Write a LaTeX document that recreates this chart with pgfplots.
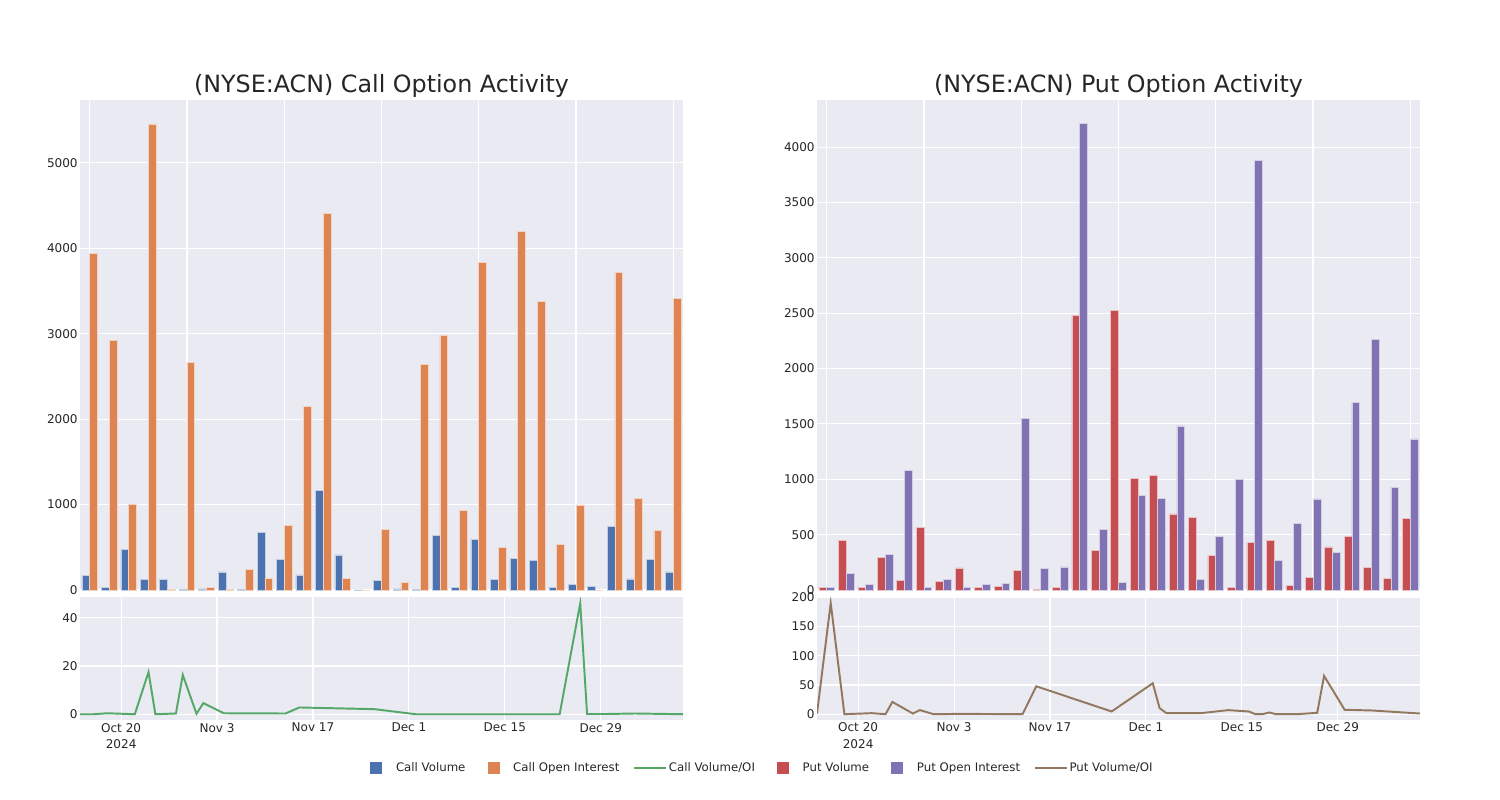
\documentclass[border=0pt]{standalone}
\usepackage{fontspec}
\setmainfont{DejaVu Sans}
\usepackage{pgfplots}
\usepackage{pgfplotstable}
\pgfplotsset{compat=1.18}

\definecolor{cblue}{HTML}{4C72B0}
\definecolor{corange}{HTML}{DD8452}
\definecolor{cgreen}{HTML}{55A868}
\definecolor{cred}{HTML}{C44E52}
\definecolor{cpurple}{HTML}{8172B3}
\definecolor{cbrown}{HTML}{937860}
\definecolor{bgc}{HTML}{EAEAF2}
\definecolor{txt}{HTML}{262626}

\pgfplotstableread{
x vol oi
0 172 3939
1 35 2925
2 476 1006
3 121 5456
4 121 4
5 4 2668
6 12 35
7 211 8
8 8 242
9 671 137
10 355 757
11 176 2153
12 1166 4407
13 410 140
14 2 0
15 109 712
16 12 90
17 3 2640
18 640 2984
19 27 928
20 589 3838
21 125 495
22 374 4200
23 351 3381
24 35 538
25 62 995
26 39 0
27 745 3713
28 129 1076
29 359 702
30 211 3413
}\calldata

\pgfplotstableread{
x vol oi
0 27 27
1 449 148
2 24 51
3 292 322
4 84 1081
5 563 21
6 81 99
7 199 21
8 24 48
9 30 60
10 178 1548
11 9 193
12 27 208
13 2479 4214
14 361 548
15 2528 68
16 1009 852
17 1033 828
18 687 1482
19 654 93
20 316 485
21 21 1000
22 428 3883
23 446 268
24 39 602
25 117 822
26 389 337
27 485 1696
28 202 2262
29 102 928
30 645 1364
}\putdata

\pgfplotstableread{
d r
-6 0
-4 0
-2 0.4
2 0
4 17.5
5 0
8 0.3
9 16.3
11 0.2
12 4.6
15 0.4
24 0.3
26 2.8
37 2.1
43 0
45 0
50 0
57 0
64 0
67 46
68 0.1
71 0.1
75 0.3
82 0
}\callratio

\pgfplotstableread{
d r
-6 1
-4 190
-2 0
2 1.7
4 0
5 21
8 1
9 7
11 0
15 0.5
24 0
26 47.7
37 4.6
43 52.9
44 10.3
45 1.7
50 1.7
54 6.9
57 4.6
58 0
59 0
60 2.9
61 0
64 0
67 2.3
68 65.5
71 7.5
75 6.3
82 1.1
}\putratio

\pgfplotsset{
  sbase/.style={
    scale only axis, width=434.16bp,
    axis background/.style={fill=bgc},
    axis line style={draw=none},
    major tick length=0pt,
    grid=major, major grid style={white, line width=0.8bp},
    tick label style={font=\fontsize{8.7}{12.2}\selectfont, text=txt},
    yticklabel style={inner sep=1.5bp},
    /pgf/number format/assume math mode=true,
    /pgf/number format/set thousands separator={},
    title style={font=\fontsize{17.2}{20}\selectfont, text=txt, at={(0.5,1)}, anchor=south, yshift=-7.4bp},
  },
  sbar/.style={sbase, ybar, height=352.8bp, xmin=-0.5, xmax=30.5, ymin=0,
    xtick={0,5,...,30}, xticklabels={}},
  sline/.style={sbase, height=88.56bp, xmin=-6, xmax=82,
    xtick={0,14,28,42,56,70},
    xticklabels={{Oct 20\\2024},Nov 3,Nov 17,Dec 1,Dec 15,Dec 29},
    xticklabel style={align=center, inner sep=2bp}},
  sq/.style={legend image code/.code={\path[draw=none,fill=none] (0bp,0bp) -- (23bp,0bp);\fill[#1, draw=none] (5.8bp,-4.3bp) rectangle (14.4bp,4.3bp);}},
  ln/.style={legend image code/.code={\draw[#1, line width=1.2bp] (0bp,0bp) -- (23bp,0bp);}},
}

\begin{document}
\begin{tikzpicture}
\path[use as bounding box] (0,0) rectangle (1080bp,-576bp);

% Call bars
\begin{axis}[sbar, at={(57.6bp,-72bp)}, anchor=north west, ymax=5735,
  ytick={0,1000,...,5000}, title={(NYSE:ACN) Call Option Activity}]
\addplot[fill=cblue, draw=white!65!cblue, line width=0.4bp, bar width=0.4, bar shift=-0.2] table[x=x,y=vol]{\calldata};
\addplot[fill=corange, draw=white!65!corange, line width=0.4bp, bar width=0.4, bar shift=0.2] table[x=x,y=oi]{\calldata};
\end{axis}

% Call ratio
\begin{axis}[sline, at={(57.6bp,-429.84bp)}, anchor=north west, ymin=-2.4, ymax=48.6,
  ytick={0,20,40},
  legend style={at={(1.125,-0.39)}, anchor=center, draw=none, fill=none,
    font=\fontsize{8.5}{10}\selectfont, text=txt, legend columns=6,
    nodes={inner xsep=1.2bp},
    /tikz/every even column/.append style={column sep=9bp}},
  legend cell align=left]
\addplot[cgreen, line width=1.4bp, forget plot] table[x=d,y=r]{\callratio};
\addlegendimage{sq=cblue}
\addlegendentry{Call Volume}
\addlegendimage{sq=corange}
\addlegendentry{Call Open Interest}
\addlegendimage{ln=cgreen}
\addlegendentry{Call Volume/OI}
\addlegendimage{sq=cred}
\addlegendentry{Put Volume}
\addlegendimage{sq=cpurple}
\addlegendentry{Put Open Interest}
\addlegendimage{ln=cbrown}
\addlegendentry{Put Volume/OI}
\end{axis}

% Put bars
\begin{axis}[sbar, at={(588.24bp,-72bp)}, anchor=north west, ymax=4425,
  ytick={0,500,...,4000}, title={(NYSE:ACN) Put Option Activity}]
\addplot[fill=cred, draw=white!65!cred, line width=0.4bp, bar width=0.4, bar shift=-0.2] table[x=x,y=vol]{\putdata};
\addplot[fill=cpurple, draw=white!65!cpurple, line width=0.4bp, bar width=0.4, bar shift=0.2] table[x=x,y=oi]{\putdata};
\end{axis}

% Put ratio
\begin{axis}[sline, at={(588.24bp,-429.84bp)}, anchor=north west, ymin=-10, ymax=200.5,
  ytick={0,50,100,150,200}]
\addplot[cbrown, line width=1.4bp] table[x=d,y=r]{\putratio};
\end{axis}
\end{tikzpicture}
\end{document}
